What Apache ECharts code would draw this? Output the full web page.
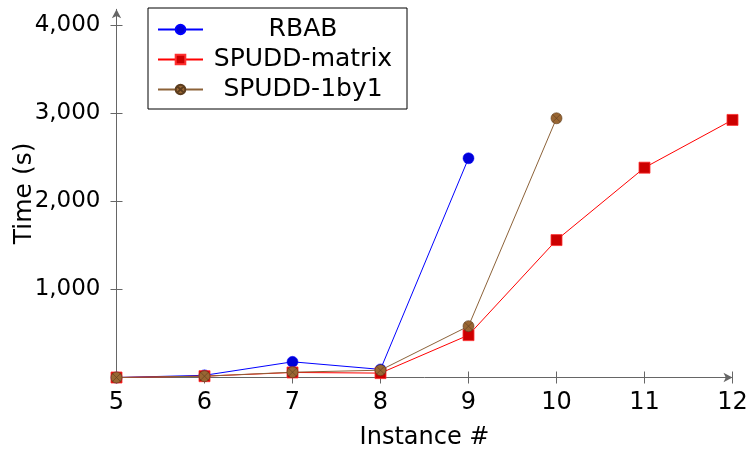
<!DOCTYPE html>
<html><head><meta charset="utf-8">
<script src="https://cdn.jsdelivr.net/npm/echarts@6/dist/echarts.min.js"></script>
<style>html,body{margin:0;padding:0;background:#fff}#c{width:747px;height:452px}</style>
</head><body><div id="c"></div>
<script>
const rbabX = [5, 6, 7, 8, 9];
const rbabY = [0, 25, 178, 92, 2489];
const matrixX = [5, 6, 7, 8, 9, 10, 11, 12];
const matrixY = [0, 15, 57, 50, 481, 1560, 2382, 2924];
const oneByOneX = [5, 6, 7, 8, 9, 10];
const oneByOneY = [0, 15, 60, 83, 583, 2943];
const yTicks = [1000, 2000, 3000, 4000];
const seriesNames = ['RBAB', 'SPUDD-matrix', 'SPUDD-1by1'];

const FONT = 'DejaVu Sans';
const pairs = (xs, ys) => xs.map((x, i) => [x, ys[i]]);
const crossSym = 'path://M0,-10A10,10,0,1,1,0,10A10,10,0,1,1,0,-10Z M-7.07,-7.07L7.07,7.07 M-7.07,7.07L7.07,-7.07';

const chart = echarts.init(document.getElementById('c'));
const baseX = {type: 'value', min: 5, max: 12, interval: 1, gridIndex: 0};
const baseY = {type: 'value', min: 0, max: 4180, interval: 1000, gridIndex: 0, splitLine: {show: false}};
chart.setOption({
  animation: false,
  grid: {left: 116.5, right: 14.5, top: 9.3, bottom: 74.5, containLabel: false, outerBoundsMode: 'none'},
  legend: {
    left: 148, top: 8, orient: 'vertical',
    data: seriesNames,
    backgroundColor: '#fff', borderColor: '#000', borderWidth: 1,
    padding: [9, 9, 7, 9],
    itemWidth: 45, itemHeight: 12, itemGap: 5, itemTextGap: 5,
    formatter: n => '{c|' + n + '}',
    textStyle: {fontFamily: FONT, fontSize: 25, color: '#000',
      rich: {c: {width: 190, align: 'center', fontFamily: FONT, fontSize: 25, lineHeight: 30, color: '#000'}}}
  },
  xAxis: [
    Object.assign({}, baseX, {
      name: 'Instance #', nameLocation: 'middle', nameGap: 48, nameMoveOverlap: false,
      nameTextStyle: {fontFamily: FONT, fontSize: 24, color: '#000'},
      axisLine: {show: true, lineStyle: {color: '#666', width: 1}, symbol: ['none', 'arrow'], symbolSize: [7, 9]},
      axisTick: {show: true, length: 6, lineStyle: {color: '#666'}},
      axisLabel: {fontFamily: FONT, fontSize: 24, color: '#000', margin: 13},
      splitLine: {show: false}
    }),
    Object.assign({}, baseX, {
      position: 'bottom',
      axisLine: {show: false}, axisLabel: {show: false}, splitLine: {show: false},
      axisTick: {show: true, inside: true, length: 6, lineStyle: {color: '#666'}}
    })
  ],
  yAxis: [
    Object.assign({}, baseY, {
      name: 'Time (s)', nameLocation: 'middle', nameGap: 80, nameMoveOverlap: false,
      nameTextStyle: {fontFamily: FONT, fontSize: 25, color: '#000'},
      axisLine: {show: true, lineStyle: {color: '#666', width: 1}, symbol: ['none', 'arrow'], symbolSize: [7, 9]},
      axisTick: {show: true, length: 6, lineStyle: {color: '#666'}, customValues: yTicks},
      axisLabel: {fontFamily: FONT, fontSize: 23, color: '#000', margin: 16, customValues: yTicks,
        formatter: v => v.toLocaleString('en-US')}
    }),
    Object.assign({}, baseY, {
      position: 'left',
      axisLine: {show: false}, axisLabel: {show: false},
      axisTick: {show: true, inside: true, length: 6, lineStyle: {color: '#666'}, customValues: yTicks}
    })
  ],
  series: [
    {name: seriesNames[0], type: 'line', data: pairs(rbabX, rbabY),
      symbol: 'circle', symbolSize: 11,
      lineStyle: {color: '#0000ff', width: 1},
      itemStyle: {color: '#0000d9', borderColor: '#0000ff', borderWidth: 0.5}, z: 2},
    {name: seriesNames[1], type: 'line', data: pairs(matrixX, matrixY),
      symbol: 'rect', symbolSize: 11,
      lineStyle: {color: '#ff0000', width: 1},
      itemStyle: {color: '#cc0000', borderColor: '#ff3030', borderWidth: 0.8}, z: 3},
    {name: seriesNames[2], type: 'line', data: pairs(oneByOneX, oneByOneY),
      symbol: crossSym, symbolSize: 11,
      lineStyle: {color: '#8c6239', width: 1},
      itemStyle: {color: '#996633', borderColor: '#5c3d1e', borderWidth: 0.6}, z: 4}
  ]
});
</script></body></html>
